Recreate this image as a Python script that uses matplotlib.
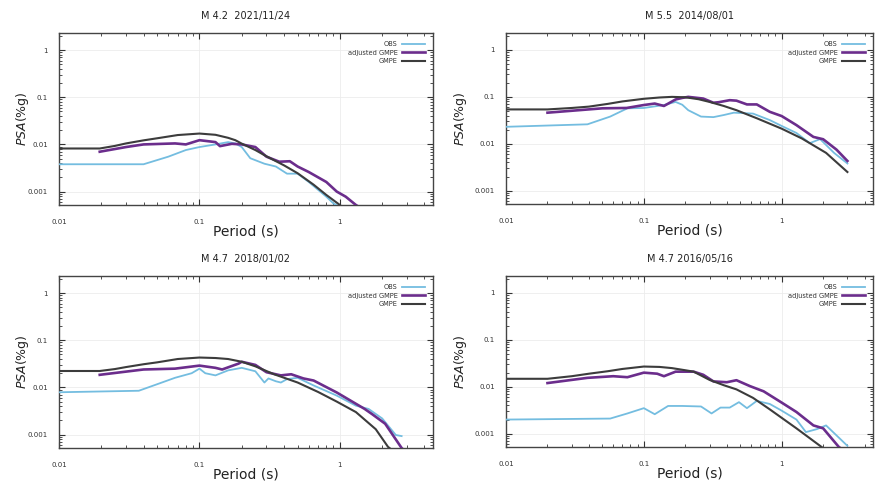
import matplotlib
matplotlib.use("Agg")
import matplotlib.pyplot as plt
from matplotlib.ticker import LogLocator, FixedLocator, FixedFormatter, NullFormatter

# ---------------- data ----------------
titles = ["M 4.2  2021/11/24", "M 5.5  2014/08/01", "M 4.7  2018/01/02", "M 4.7 2016/05/16"]
legend_labels = ["OBS", "adjusted GMPE", "GMPE"]
x_ticks = [0.01, 0.1, 1]
x_ticklabels = ["0.01", "0.1", "1"]
y_ticks = [0.001, 0.01, 0.1, 1]
y_ticklabels = ["0.001", "0.01", "0.1", "1"]

# Panel 1: M 4.2 2021/11/24
p1_gmpe_T = [0.01, 0.0195, 0.025, 0.03, 0.04, 0.05, 0.07, 0.1, 0.13, 0.16, 0.18, 0.2, 0.25, 0.3, 0.4, 0.5, 0.65, 0.8, 1.0, 1.1]
p1_gmpe = [0.0082, 0.0082, 0.0093, 0.0105, 0.0122, 0.0135, 0.0158, 0.0170, 0.0160, 0.0138, 0.0123, 0.0104, 0.0076, 0.0056, 0.0036, 0.00245, 0.0014, 0.00085, 0.00052, 0.0004]
p1_adj_T = [0.0195, 0.03, 0.04, 0.067, 0.08, 0.1, 0.13, 0.14, 0.17, 0.2, 0.25, 0.3, 0.37, 0.44, 0.5, 0.6, 0.8, 0.95, 1.1, 1.3, 1.4]
p1_adj = [0.007, 0.0088, 0.0100, 0.0105, 0.0100, 0.0123, 0.0112, 0.0092, 0.0103, 0.0100, 0.0088, 0.0055, 0.0043, 0.0044, 0.0034, 0.0026, 0.0016, 0.0010, 0.00078, 0.00052, 0.00045]
p1_obs_T = [0.01, 0.02, 0.04, 0.06, 0.08, 0.1, 0.13, 0.16, 0.18, 0.2, 0.23, 0.29, 0.35, 0.42, 0.5, 0.6, 0.8, 0.9, 1.0]
p1_obs = [0.0038, 0.0038, 0.0038, 0.0055, 0.0076, 0.0088, 0.0100, 0.0112, 0.0105, 0.0088, 0.0051, 0.0039, 0.0034, 0.0024, 0.0024, 0.0016, 0.00078, 0.00056, 0.00048]

# Panel 2: M 5.5 2014/08/01
p2_gmpe_T = [0.01, 0.02, 0.03, 0.04, 0.055, 0.07, 0.1, 0.13, 0.16, 0.2, 0.25, 0.3, 0.38, 0.47, 0.66, 1.0, 1.4, 2.1, 3.0]
p2_gmpe = [0.054, 0.054, 0.058, 0.062, 0.071, 0.080, 0.091, 0.097, 0.100, 0.098, 0.089, 0.078, 0.064, 0.052, 0.035, 0.021, 0.013, 0.0064, 0.0025]
p2_adj_T = [0.02, 0.05, 0.075, 0.1, 0.12, 0.14, 0.17, 0.19, 0.21, 0.27, 0.32, 0.35, 0.42, 0.47, 0.56, 0.66, 0.82, 1.0, 1.28, 1.7, 2.0, 2.5, 3.0]
p2_adj = [0.046, 0.057, 0.058, 0.067, 0.072, 0.064, 0.088, 0.095, 0.100, 0.092, 0.075, 0.077, 0.085, 0.083, 0.069, 0.069, 0.048, 0.039, 0.025, 0.014, 0.0125, 0.0075, 0.0043]
p2_obs_T = [0.01, 0.039, 0.057, 0.076, 0.1, 0.14, 0.17, 0.19, 0.21, 0.26, 0.32, 0.38, 0.45, 0.62, 0.82, 1.0, 1.28, 1.6, 1.9, 2.4, 3.0]
p2_obs = [0.023, 0.026, 0.038, 0.057, 0.058, 0.067, 0.078, 0.068, 0.052, 0.038, 0.037, 0.041, 0.046, 0.044, 0.032, 0.024, 0.017, 0.0103, 0.0126, 0.0064, 0.0038]

# Panel 3: M 4.7 2018/01/02
p3_gmpe_T = [0.01, 0.0195, 0.025, 0.03, 0.04, 0.05, 0.07, 0.1, 0.13, 0.16, 0.2, 0.25, 0.34, 0.5, 0.7, 0.95, 1.3, 1.8, 2.2, 2.4]
p3_gmpe = [0.0223, 0.0223, 0.0245, 0.027, 0.031, 0.034, 0.040, 0.043, 0.042, 0.040, 0.035, 0.028, 0.019, 0.0127, 0.0080, 0.0050, 0.0030, 0.0013, 0.00055, 0.00045]
p3_adj_T = [0.0195, 0.04, 0.067, 0.1, 0.13, 0.145, 0.19, 0.2, 0.25, 0.3, 0.38, 0.45, 0.55, 0.65, 0.95, 1.5, 1.7, 2.1, 2.75, 2.9]
p3_adj = [0.0185, 0.024, 0.025, 0.029, 0.026, 0.024, 0.032, 0.035, 0.030, 0.021, 0.018, 0.019, 0.0155, 0.014, 0.0078, 0.0035, 0.0027, 0.0017, 0.00052, 0.00045]
p3_obs_T = [0.01, 0.037, 0.05, 0.067, 0.088, 0.1, 0.11, 0.13, 0.16, 0.2, 0.25, 0.29, 0.31, 0.35, 0.38, 0.42, 0.5, 0.65, 0.95, 1.3, 1.6, 2.0, 2.5, 2.75]
p3_obs = [0.0079, 0.0085, 0.0117, 0.016, 0.020, 0.025, 0.020, 0.018, 0.023, 0.026, 0.022, 0.0127, 0.0155, 0.0135, 0.0127, 0.0150, 0.016, 0.011, 0.0067, 0.0041, 0.0035, 0.0022, 0.00098, 0.00093]

# Panel 4: M 4.7 2016/05/16
p4_gmpe_T = [0.01, 0.02, 0.03, 0.04, 0.055, 0.07, 0.1, 0.13, 0.16, 0.2, 0.23, 0.3, 0.38, 0.47, 0.62, 0.82, 1.28, 1.95, 2.1]
p4_gmpe = [0.0148, 0.0148, 0.0168, 0.019, 0.0215, 0.024, 0.027, 0.0265, 0.025, 0.0225, 0.021, 0.014, 0.0108, 0.0088, 0.0058, 0.0033, 0.0013, 0.00052, 0.00045]
p4_adj_T = [0.02, 0.039, 0.06, 0.076, 0.1, 0.125, 0.14, 0.17, 0.23, 0.27, 0.32, 0.4, 0.47, 0.59, 0.74, 1.0, 1.28, 1.7, 2.0, 2.6, 2.8]
p4_adj = [0.012, 0.0155, 0.0168, 0.0160, 0.020, 0.019, 0.0168, 0.021, 0.021, 0.018, 0.013, 0.0125, 0.0138, 0.0103, 0.008, 0.0046, 0.0029, 0.0015, 0.0013, 0.00052, 0.00045]
p4_obs_T = [0.01, 0.057, 0.076, 0.1, 0.12, 0.15, 0.19, 0.26, 0.31, 0.36, 0.42, 0.49, 0.56, 0.66, 0.82, 1.0, 1.28, 1.5, 1.8, 2.1, 2.5, 3.0]
p4_obs = [0.0020, 0.0021, 0.0027, 0.0035, 0.0026, 0.0039, 0.0039, 0.0038, 0.0027, 0.0036, 0.0036, 0.0047, 0.0035, 0.0050, 0.0043, 0.0031, 0.0020, 0.00108, 0.00125, 0.0015, 0.00092, 0.00055]

panels = [
    (p1_obs_T, p1_obs, p1_adj_T, p1_adj, p1_gmpe_T, p1_gmpe),
    (p2_obs_T, p2_obs, p2_adj_T, p2_adj, p2_gmpe_T, p2_gmpe),
    (p3_obs_T, p3_obs, p3_adj_T, p3_adj, p3_gmpe_T, p3_gmpe),
    (p4_obs_T, p4_obs, p4_adj_T, p4_adj, p4_gmpe_T, p4_gmpe),
]

# ---------------- style ----------------
c_obs = "#74bde0"
c_adj = "#6b2d8c"
c_gmpe = "#3c3c3c"

fig = plt.figure(figsize=(8.78, 4.86), dpi=100)
W, H = 878.0, 486.0
boxes = [
    (59, 33, 433, 205),
    (506, 33, 873, 204),
    (59, 276, 433, 448),
    (506, 276, 873, 447),
]
ylabel_x = [-0.075, -0.10, -0.075, -0.10]

for i, (box, data, title) in enumerate(zip(boxes, panels, titles)):
    l, t, r, b = box
    ax = fig.add_axes([l / W, 1 - b / H, (r - l) / W, (b - t) / H])
    oT, o, aT, a, gT, g = data
    ax.plot(oT, o, color=c_obs, lw=1.3, label=legend_labels[0], zorder=3)
    ax.plot(aT, a, color=c_adj, lw=1.9, label=legend_labels[1], zorder=4)
    ax.plot(gT, g, color=c_gmpe, lw=1.5, label=legend_labels[2], zorder=5)
    ax.set_xscale("log")
    ax.set_yscale("log")
    ax.set_xlim(0.01, 4.6)
    ax.set_ylim(0.00052, 2.3)
    ax.xaxis.set_major_locator(FixedLocator(x_ticks))
    ax.xaxis.set_major_formatter(FixedFormatter(x_ticklabels))
    ax.yaxis.set_major_locator(FixedLocator(y_ticks))
    ax.yaxis.set_major_formatter(FixedFormatter(y_ticklabels))
    ax.xaxis.set_minor_locator(LogLocator(base=10, subs=range(2, 10)))
    ax.yaxis.set_minor_locator(LogLocator(base=10, subs=range(2, 10)))
    ax.xaxis.set_minor_formatter(NullFormatter())
    ax.yaxis.set_minor_formatter(NullFormatter())
    ax.tick_params(which="both", direction="in", top=True, right=True, labelsize=5, colors="#333333")
    ax.tick_params(axis="x", which="major", pad=10)
    ax.tick_params(axis="y", which="major", pad=8)
    ax.tick_params(which="major", length=4, width=0.8)
    ax.tick_params(which="minor", length=2, width=0.6)
    ax.grid(True, which="major", color="#ececec", lw=0.6)
    for s in ax.spines.values():
        s.set_color("#444444")
        s.set_linewidth(1.0)
    ax.set_title(title, fontsize=7, pad=10, color="#222222")
    ax.set_xlabel("Period (s)", fontsize=10, labelpad=0, color="#222222")
    ax.set_ylabel(r"$\mathit{PSA}$(%g)", fontsize=9, color="#222222")
    ax.yaxis.set_label_coords(ylabel_x[i], 0.5)
    leg = ax.legend(loc="upper right", frameon=False, markerfirst=False, fontsize=4.8,
                    handlelength=3.5, handletextpad=0.6, labelspacing=0.4,
                    borderaxespad=0.8)
    for txt in leg.get_texts():
        txt.set_color("#333333")

fig.savefig("out.png", dpi=100)
